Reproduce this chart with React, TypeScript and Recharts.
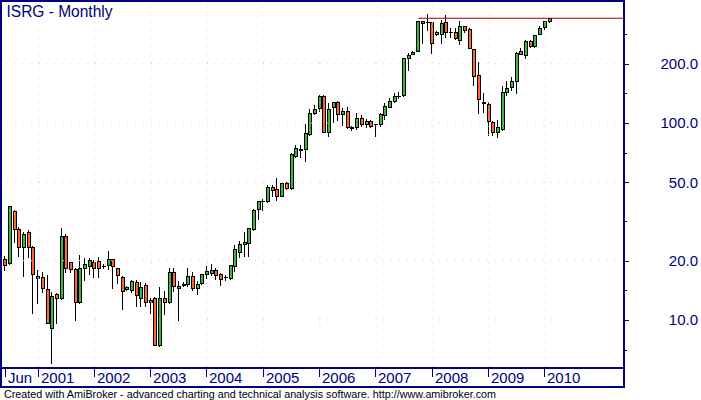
import React from 'react';
import { ComposedChart, Bar, XAxis, YAxis, ReferenceLine } from 'recharts';

// Monthly ISRG candles, Jun 2000 .. Feb 2010 (index 0 = Jun 2000)
const opens = [
  20.5, 19.5, 35.8, 29.0, 23.4, 27.9, 23.4, 16.3, 16.5, 14.3,
  9.07, 13.5, 12.9, 26.6, 19.6, 18.1, 12.3, 18.3, 18.7, 19.6,
  19.9, 18.7, 18.9, 20.4, 18.3, 16.5, 14.3, 14.2, 15.5, 13.0,
  15.0, 12.3, 13.0, 7.44, 13.0, 12.3, 17.5, 14.5, 15.0, 15.2,
  16.7, 14.5, 15.4, 17.1, 17.4, 17.9, 17.1, 16.5, 16.3, 18.8,
  22.0, 24.2, 24.5, 29.0, 36.5, 40.0, 40.0, 47.5, 46.3, 42.8,
  49.4, 46.6, 68.2, 73.0, 73.5, 87.6, 112, 118.8, 137, 89.7,
  120, 127.4, 111, 115.6, 95.5, 95.1, 105.6, 98.5, 102.4, 98.3,
  98.5, 110, 121, 130, 137, 138, 213, 225, 233, 321,
  327, 324, 291, 283, 327, 290, 291, 264, 311, 299,
  237, 175.5, 128, 125, 101.5, 89.7, 92.9, 143, 152, 164,
  233, 221, 261, 246, 283, 306, 329,
];
const highs = [
  21.0, 38.0, 36.2, 29.8, 27.9, 28.7, 23.6, 17.9, 17.5, 16.9,
  13.9, 13.7, 29.2, 27.2, 19.8, 18.3, 21.4, 20.6, 20.7, 20.2,
  20.8, 19.3, 22.4, 20.5, 18.4, 16.8, 14.8, 16.0, 16.0, 15.5,
  15.4, 13.0, 13.1, 14.7, 14.1, 18.3, 18.3, 15.8, 15.5, 18.3,
  17.6, 15.8, 17.2, 18.8, 19.2, 18.4, 17.3, 16.9, 19.0, 24.0,
  25.3, 28.0, 29.3, 36.5, 40.3, 41.0, 48.5, 48.5, 52.4, 49.5,
  50.0, 70.0, 77.3, 77.3, 98.5, 117.4, 123.4, 138.7, 139, 126,
  128, 129.8, 118.8, 121, 96, 112, 110, 104.6, 103, 99,
  112, 126, 133.5, 141.5, 143, 214, 226, 233, 331, 331,
  357, 325, 292, 333, 352, 302, 302, 330, 312, 302,
  238, 205, 142.6, 128, 102, 103.6, 154.7, 163, 170.6, 230,
  240, 263, 264, 281, 309, 331, 342,
];
const lows = [
  17.9, 19.2, 25.0, 21.2, 16.8, 20.8, 10.8, 12.2, 13.8, 9.6,
  6.03, 9.6, 12.8, 17.6, 17.6, 10.0, 12.2, 16.0, 17.1, 16.5,
  16.5, 18.3, 18.1, 14.5, 15.4, 11.3, 14.2, 13.8, 11.8, 11.8,
  11.8, 10.9, 7.5, 7.4, 10.7, 12.2, 14.1, 10.0, 14.9, 14.9,
  14.2, 13.6, 15.3, 16.4, 16.9, 16.1, 15.0, 16.0, 16.2, 17.8,
  20.8, 21.1, 21.1, 28.5, 32.6, 36.2, 39.6, 42.8, 40.4, 42.5,
  46.3, 46.3, 67.0, 67.0, 64.4, 87.0, 111, 115, 89.5, 85.9,
  101.5, 103.6, 97.7, 94, 92.2, 92.8, 96, 95, 95.5, 86,
  97, 105, 120, 128, 134, 137, 186, 224, 232, 255,
  296.6, 227.5, 281, 254, 274, 273, 268, 251, 291, 239,
  156, 112, 114, 86.9, 86.9, 85.2, 92.5, 138, 147, 142.6,
  223, 213, 244, 244, 282, 300, 327,
];
const closes = [
  18.9, 37.8, 28.9, 23.4, 27.2, 23.4, 17.1, 16.7, 14.5, 9.7,
  13.2, 12.9, 26.8, 18.3, 18.2, 12.4, 18.3, 19.2, 20.1, 18.4,
  18.3, 18.8, 20.5, 18.8, 16.9, 14.0, 14.7, 15.8, 13.4, 14.7,
  12.3, 12.7, 7.5, 12.9, 12.3, 17.5, 14.9, 14.9, 15.3, 16.7,
  14.5, 15.2, 17.1, 17.7, 17.9, 16.9, 16.1, 16.6, 18.9, 22.9,
  24.2, 24.9, 29.2, 36.2, 40.0, 40.1, 47.2, 45.7, 42.8, 49.4,
  46.6, 69.4, 74.4, 73.5, 88.6, 112, 117.4, 137.1, 89.7, 117.4,
  127.4, 111, 115, 95.1, 94, 105.6, 98.5, 102.4, 96.6, 98.6,
  110.7, 122, 129.3, 137, 137.5, 213, 221, 229, 330, 330,
  325, 254, 282, 323, 291, 291, 269, 311, 297, 239.5,
  173, 132, 127, 102.7, 90.3, 95.1, 143, 150, 163, 226,
  224, 262, 246, 280, 305, 330, 341,
];

const xTickIndex = [0, 7, 19, 31, 43, 55, 67, 79, 91, 103, 115];
const xTickLabels = ['Jun', '2001', '2002', '2003', '2004', '2005', '2006', '2007', '2008', '2009', '2010'];
const yMajorTicks = [10, 20, 50, 100, 200];
const yMinorTicks = [7.07, 14.14, 31.62, 70.71, 141.42, 282.84];

const resistanceLevel = 340;
const resistanceStart = 88;

const X_DOMAIN: [number, number] = [-1, 131.8];
const Y_DOMAIN: [number, number] = [5.77, 416];

const data = opens.map((o, i) => ({ i, o, h: highs[i], l: lows[i], c: closes[i] }));

const FRAME = '#000080';
const GREEN = '#3CB83C';
const RED = '#FF6630';
const GRID = '#F2C2CA';
const FONT = '"Liberation Sans", Arial, sans-serif';

function Candle(props: any) {
  const { x, y, width, height, payload } = props;
  if (!payload || x == null || y == null || height == null) return null;
  const top = Math.min(y, y + height);
  const bottom = Math.max(y, y + height);
  const lh = Math.log(payload.h);
  const ll = Math.log(payload.l);
  const span = lh - ll;
  const yOf = (v: number) => (span <= 0 ? top : bottom - ((Math.log(v) - ll) / span) * (bottom - top));
  const cx = Math.round(x + width / 2);
  const up = payload.c >= payload.o;
  const yo = yOf(payload.o);
  const yc = yOf(payload.c);
  const bTop = Math.round(Math.min(yo, yc));
  const bBot = Math.round(Math.max(yo, yc));
  const wx = cx - 0.5;
  return (
    <g>
      <line x1={wx} x2={wx} y1={Math.round(top)} y2={Math.round(bottom) + 1} stroke="#000" strokeWidth={1} />
      {bBot - bTop >= 1 ? (
        <rect x={cx - 1.5} y={bTop + 0.5} width={3} height={bBot - bTop} fill={up ? GREEN : RED} stroke="#000" strokeWidth={1} />
      ) : (
        <line x1={cx - 2} x2={cx + 2} y1={bTop + 0.5} y2={bTop + 0.5} stroke="#000" strokeWidth={1} />
      )}
    </g>
  );
}

function XTick(props: any) {
  const { x, y, payload } = props;
  const k = xTickIndex.indexOf(payload.value);
  const lx = Math.round(x) - 0.5;
  return (
    <g>
      <line x1={lx} x2={lx} y1={y + 1} y2={y + 10} stroke={FRAME} strokeWidth={1} />
      <text x={Math.round(x) + 2} y={y + 15.5} fontSize={15} fill={FRAME} fontFamily={FONT}>
        {k >= 0 ? xTickLabels[k] : ''}
      </text>
    </g>
  );
}

function YTick(props: any) {
  const { x, y, payload } = props;
  const v = payload.value;
  const major = yMajorTicks.includes(v);
  const yy = Math.round(y) + 0.5;
  return (
    <g>
      <line x1={x + 1} x2={x + (major ? 5 : 3)} y1={yy} y2={yy} stroke={FRAME} strokeWidth={1} />
      {major && (
        <text x={x + 74} y={y + 5.5} textAnchor="end" fontSize={15} fill={FRAME} fontFamily={FONT}>
          {v.toFixed(1)}
        </text>
      )}
    </g>
  );
}

const yTicks = [...yMajorTicks, ...yMinorTicks].sort((a, b) => a - b);

export default function App() {
  return (
    <div style={{ position: 'absolute', left: 0, top: 0, width: 701, height: 400, background: '#fff' }}>
      <ComposedChart width={701} height={400} data={data} margin={{ top: 1, right: 0, bottom: 0, left: 1 }}>
        <XAxis
          dataKey="i"
          type="number"
          domain={X_DOMAIN}
          allowDataOverflow
          ticks={xTickIndex}
          interval={0}
          height={33}
          tickSize={0}
          tickMargin={0}
          axisLine={false}
          tickLine={false}
          tick={<XTick />}
        />
        <YAxis
          orientation="right"
          type="number"
          scale="log"
          domain={Y_DOMAIN}
          allowDataOverflow
          ticks={yTicks}
          interval={0}
          width={77}
          tickSize={0}
          tickMargin={0}
          axisLine={false}
          tickLine={false}
          tick={<YTick />}
        />
        {yMajorTicks.map((v) => (
          <ReferenceLine key={'gy' + v} y={v} stroke={GRID} strokeDasharray="1 7" />
        ))}
        {xTickIndex.slice(1).map((v) => (
          <ReferenceLine key={'gx' + v} x={v} stroke={GRID} strokeDasharray="1 7" />
        ))}
        <ReferenceLine
          segment={[
            { x: resistanceStart, y: resistanceLevel },
            { x: X_DOMAIN[1], y: resistanceLevel },
          ]}
          stroke="#990000"
          strokeWidth={1}
          ifOverflow="visible"
        />
        <Bar dataKey={(d: any) => [d.l, d.h]} shape={Candle} barSize={4} isAnimationActive={false} />
      </ComposedChart>
      <svg width={701} height={400} style={{ position: 'absolute', left: 0, top: 0, pointerEvents: 'none' }}>
        <rect x={0} y={0} width={625} height={2} fill={FRAME} />
        <rect x={0} y={0} width={2} height={388} fill={FRAME} />
        <rect x={623} y={0} width={2} height={388} fill={FRAME} />
        <rect x={0} y={367} width={625} height={2} fill={FRAME} />
        <rect x={0} y={386} width={625} height={2} fill={FRAME} />
        <text x={6.5} y={16.5} fontSize={16} textLength={106} lengthAdjust="spacingAndGlyphs" fill={FRAME} fontFamily={FONT}>
          ISRG - Monthly
        </text>
        <text x={4} y={397.5} fontSize={11} textLength={492} lengthAdjust="spacingAndGlyphs" fill="#000" fontFamily={FONT}>
          Created with AmiBroker - advanced charting and technical analysis software. http://www.amibroker.com
        </text>
      </svg>
    </div>
  );
}
